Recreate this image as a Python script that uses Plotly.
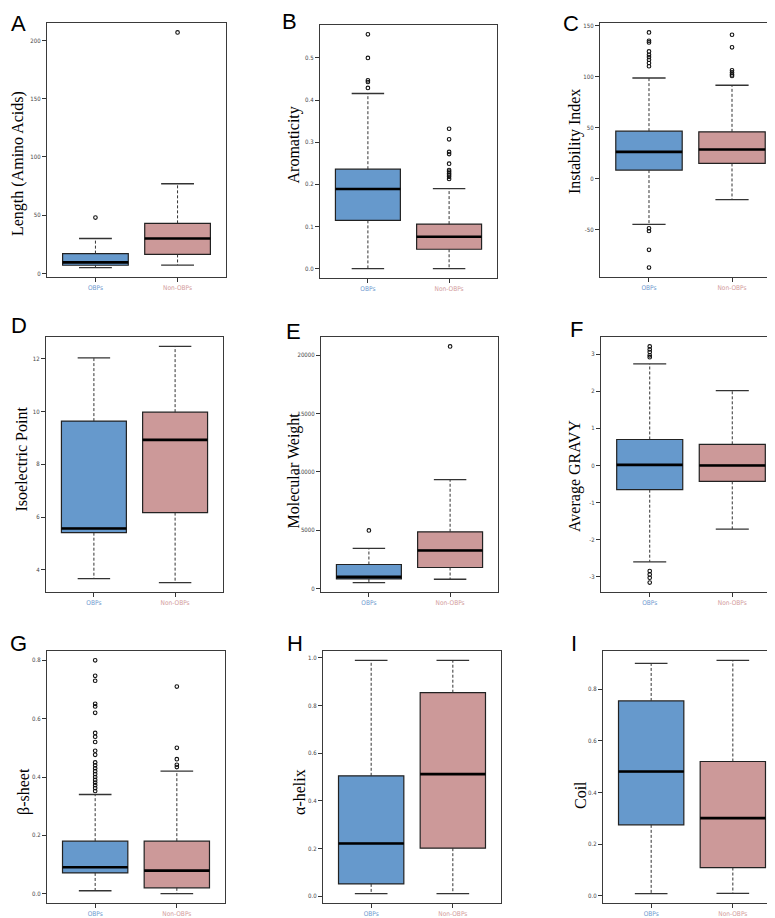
import plotly.graph_objects as go

# ---------------- data ----------------
PANEL_LETTERS = ["A", "B", "C", "D", "E", "F", "G", "H", "I"]
Y_TITLES = ["Length (Amino Acids)", "Aromaticity", "Instability Index",
            "Isoelectric Point", "Molecular Weight", "Average GRAVY",
            "β-sheet", "α-helix", "Coil"]
GROUPS = ["OBPs", "Non-OBPs"]

OBP_LOWER = [5, 0.0, -45, 3.67, 516, -2.60, 0.010, 0.010, 0.009]
OBP_Q1 = [7, 0.1145, 8.2, 5.41, 825, -0.655, 0.071, 0.051, 0.275]
OBP_MEDIAN = [9.5, 0.189, 26.1, 5.57, 1000, 0.016, 0.0905, 0.221, 0.481]
OBP_Q3 = [17, 0.236, 46.4, 9.64, 2063, 0.70, 0.18, 0.505, 0.754]
OBP_UPPER = [30, 0.4157, 98.5, 12.04, 3438, 2.74, 0.34, 0.99, 0.899]

NON_LOWER = [7.2, 0.0, -20.8, 3.52, 800, -1.72, 0.0, 0.01, 0.01]
NON_Q1 = [16.3, 0.046, 14.7, 6.17, 1805, -0.43, 0.02, 0.201, 0.11]
NON_MEDIAN = [30, 0.0755, 28.4, 8.93, 3266, 0.0, 0.079, 0.512, 0.301]
NON_Q3 = [43, 0.1057, 45.7, 9.98, 4866, 0.57, 0.18, 0.854, 0.52]
NON_UPPER = [77, 0.19, 91.4, 12.47, 9335, 2.02, 0.42, 0.99, 0.911]

OBP_OUTLIERS = [
    [48],
    [0.429, 0.443, 0.447, 0.5, 0.556],
    [110, 113.2, 116.4, 119, 121.3, 124.6, 133.4, 135, 143.2, -48.9, -51.5, -70, -87.4],
    [],
    [4986],
    [2.92, 2.97, 3.06, 3.13, 3.21, -2.85, -2.94, -3.03, -3.16],
    [0.352, 0.362, 0.372, 0.381, 0.39, 0.40, 0.41, 0.42, 0.43, 0.44, 0.45,
     0.476, 0.49, 0.52, 0.538, 0.551, 0.62, 0.642, 0.651, 0.73, 0.747, 0.80],
    [],
    [],
]
NON_OUTLIERS = [
    [207],
    [0.213, 0.218, 0.222, 0.226, 0.230, 0.234, 0.249, 0.272, 0.277, 0.307, 0.332],
    [100.5, 102, 104, 106, 128.6, 140.9],
    [],
    [20743],
    [],
    [0.434, 0.442, 0.461, 0.50, 0.71],
    [],
    [],
]

Y_TICKS = [
    [0, 50, 100, 150, 200],
    [0.0, 0.1, 0.2, 0.3, 0.4, 0.5],
    [-50, 0, 50, 100, 150],
    [4, 6, 8, 10, 12],
    [0, 5000, 10000, 15000, 20000],
    [-3, -2, -1, 0, 1, 2, 3],
    [0.0, 0.2, 0.4, 0.6, 0.8],
    [0.0, 0.2, 0.4, 0.6, 0.8, 1.0],
    [0.0, 0.2, 0.4, 0.6, 0.8],
]
Y_TICK_TEXT = [
    ["0", "50", "100", "150", "200"],
    ["0.0", "0.1", "0.2", "0.3", "0.4", "0.5"],
    ["-50", "0", "50", "100", "150"],
    ["4", "6", "8", "10", "12"],
    ["0", "5000", "10000", "15000", "20000"],
    ["-3", "-2", "-1", "0", "1", "2", "3"],
    ["0.0", "0.2", "0.4", "0.6", "0.8"],
    ["0.0", "0.2", "0.4", "0.6", "0.8", "1.0"],
    ["0.0", "0.2", "0.4", "0.6", "0.8"],
]

# ---------------- layout geometry (pixels) ----------------
W, H = 775, 918
# plot boxes: (left, right, top, bottom)
BOXES = [
    (39, 218, 15, 269), (312, 489, 17, 270), (592, 773, 15, 269),
    (38, 215, 329, 584), (313, 490, 329, 584), (593, 773, 329, 584),
    (39, 217, 643, 895), (315, 493, 643, 895), (595, 773, 643, 895),
]
LETTER_POS = [(10.5, 15.5), (281.5, 13.5), (562.5, 15.5),
              (10.5, 317.5), (285.5, 323.5), (568.5, 321.5),
              (10.5, 635.5), (286.5, 635.5), (566, 635.5)]
TITLE_POS = [(10, 156), (285.5, 137), (567, 134),
             (12.5, 451), (285.5, 463), (567, 468),
             (16, 784), (291, 784), (572, 787)]

BLUE = "#6699CC"
PINK = "#CC9999"
OBP_TXT = "#6F9ACF"
NON_TXT = "#D39C9C"
EDGE = "#222222"
FRAME = "#3a3a3a"
TICKFONT = dict(family="Liberation Sans Narrow, DejaVu Sans Condensed, Liberation Sans, Arial",
                size=6, color="#444444")

fig = go.Figure()
annotations = []
POS = [1, 2]
HALF = 0.4
CAP = 0.2

for i in range(9):
    xa = "x" if i == 0 else f"x{i+1}"
    ya = "y" if i == 0 else f"y{i+1}"
    lo = [OBP_LOWER[i], NON_LOWER[i]]
    q1 = [OBP_Q1[i], NON_Q1[i]]
    med = [OBP_MEDIAN[i], NON_MEDIAN[i]]
    q3 = [OBP_Q3[i], NON_Q3[i]]
    hi = [OBP_UPPER[i], NON_UPPER[i]]
    outs = [OBP_OUTLIERS[i], NON_OUTLIERS[i]]
    colors = [BLUE, PINK]

    wx, wy, cx, cy, mx, my = [], [], [], [], [], []
    for g in range(2):
        p = POS[g]
        wx += [p, p, None, p, p, None]
        wy += [q3[g], hi[g], None, q1[g], lo[g], None]
        cx += [p - CAP, p + CAP, None, p - CAP, p + CAP, None]
        cy += [hi[g], hi[g], None, lo[g], lo[g], None]
        mx += [p - HALF, p + HALF, None]
        my += [med[g], med[g], None]
    fig.add_trace(go.Scatter(x=wx, y=wy, mode="lines", xaxis=xa, yaxis=ya,
                             line=dict(color="#333333", width=1, dash="3px,2px"),
                             showlegend=False, hoverinfo="skip"))
    fig.add_trace(go.Scatter(x=cx, y=cy, mode="lines", xaxis=xa, yaxis=ya,
                             line=dict(color="#333333", width=1.3),
                             showlegend=False, hoverinfo="skip"))
    for g in range(2):
        fig.add_trace(go.Box(x=[POS[g]], q1=[q1[g]], median=[med[g]], q3=[q3[g]],
                             lowerfence=[q1[g]], upperfence=[q3[g]],
                             orientation="v", width=0.8, whiskerwidth=0,
                             fillcolor=colors[g], line=dict(color=EDGE, width=1.2),
                             boxpoints=False, xaxis=xa, yaxis=ya,
                             showlegend=False, hoverinfo="skip"))
    fig.add_trace(go.Scatter(x=mx, y=my, mode="lines", xaxis=xa, yaxis=ya,
                             line=dict(color="black", width=2.6),
                             showlegend=False, hoverinfo="skip"))
    ox, oy = [], []
    for g in range(2):
        ox += [POS[g]] * len(outs[g])
        oy += outs[g]
    if ox:
        fig.add_trace(go.Scatter(x=ox, y=oy, mode="markers", xaxis=xa, yaxis=ya,
                                 marker=dict(symbol="circle-open", size=3.6,
                                             color="#111111", line=dict(width=1.1)),
                                 showlegend=False, hoverinfo="skip"))

    allv = lo + hi + outs[0] + outs[1]
    vmin, vmax = min(allv), max(allv)
    pad = 0.04 * (vmax - vmin)

    L, R, T, B = BOXES[i]
    xkey = "xaxis" if i == 0 else f"xaxis{i+1}"
    ykey = "yaxis" if i == 0 else f"yaxis{i+1}"
    fig.layout[xkey] = dict(
        domain=[L / W, R / W], anchor=ya, range=[0.41, 2.59],
        tickvals=POS,
        ticktext=[f"<span style='color:{OBP_TXT}'>{GROUPS[0]}</span>",
                  f"<span style='color:{NON_TXT}'>{GROUPS[1]}</span>"],
        tickfont=dict(TICKFONT, size=6.5), ticks="outside", ticklen=4, tickwidth=1,
        tickcolor="#333333", showline=True, mirror=True, linecolor=FRAME,
        linewidth=1.3, showgrid=False, zeroline=False, fixedrange=True,
    )
    fig.layout[ykey] = dict(
        domain=[1 - B / H, 1 - T / H], anchor=xa, range=[vmin - pad, vmax + pad],
        tickvals=Y_TICKS[i], ticktext=Y_TICK_TEXT[i], tickfont=TICKFONT,
        ticks="outside", ticklen=4, tickwidth=1, tickcolor="#333333",
        showline=True, mirror=True, linecolor=FRAME, linewidth=1.3,
        showgrid=False, zeroline=False, fixedrange=True,
    )

    lx, ly = LETTER_POS[i]
    annotations.append(dict(text=PANEL_LETTERS[i], x=lx / W, y=1 - ly / H,
                            xref="paper", yref="paper", xanchor="center",
                            yanchor="middle", showarrow=False,
                            font=dict(family="Liberation Sans, Arial", size=22,
                                      color="black")))
    tx, ty = TITLE_POS[i]
    annotations.append(dict(text=Y_TITLES[i], x=tx / W, y=1 - ty / H,
                            xref="paper", yref="paper", xanchor="center",
                            yanchor="middle", textangle=-90, showarrow=False,
                            font=dict(family="Liberation Serif, Times New Roman, serif",
                                      size=16, color="black")))

fig.update_layout(
    width=W, height=H, margin=dict(l=0, r=0, t=0, b=0),
    paper_bgcolor="white", plot_bgcolor="white",
    annotations=annotations, showlegend=False,
)

fig.write_html("out.html")
